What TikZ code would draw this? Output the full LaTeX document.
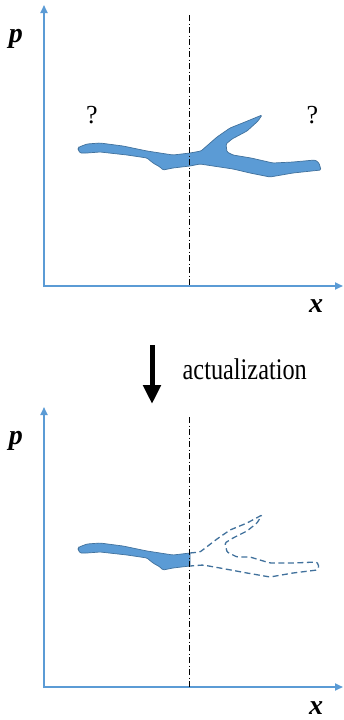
\documentclass[tikz,border=0pt]{standalone}
\usepackage{fontspec}
\setmainfont{Liberation Serif}
\usetikzlibrary{arrows.meta}
\definecolor{axisblue}{HTML}{5B9BD5}
\definecolor{blobfill}{HTML}{5B9BD5}
\definecolor{blobline}{HTML}{41719C}
\begin{document}
\begin{tikzpicture}[x=1pt,y=-1pt,
  axis/.style={draw=axisblue, line width=1.8pt, -{Triangle[length=8pt,width=7pt]}},
  dashdot/.style={line width=0.9pt, dash pattern=on 6pt off 2.5pt on 1pt off 2.5pt},
  blob/.style={fill=blobfill, draw=blobline, line width=0.7pt, rounded corners=1.2pt},
  ghost/.style={draw=blobline, line width=1.3pt, dash pattern=on 6pt off 3.5pt, rounded corners=1.2pt},
  lbl/.style={font=\fontsize{28}{32}\selectfont\bfseries\itshape, inner sep=0pt, anchor=base},
  qm/.style={font=\fontsize{26}{30}\selectfont, inner sep=0pt, anchor=base},
  txt/.style={font=\fontsize{30}{36}\selectfont, inner sep=0pt, anchor=base west}]
\useasboundingbox (0,0) rectangle (344,720);

% ---------- top panel ----------
\coordinate (o1y) at (44,287);
\coordinate (o1x) at (43.1,286);
\coordinate (ytip1) at (44,5);
\coordinate (xtip1) at (343,286);
\draw[axis] (o1y) -- (ytip1);
\draw[axis] (o1x) -- (xtip1);
\coordinate (dtop1) at (189,15);
\coordinate (dbot1) at (189,286);

\path[blob] (190,166) -- (173,168) -- (163,170) -- (160,167) -- (153,163) -- (147,158) -- (127,155) -- (100,152) -- (87,153) -- (80,153) -- (78,149) -- (79,147) -- (87,144) -- (100,143) -- (123,146) -- (147,151) -- (173,155) -- (190,153) -- (201,151) -- (217,137) -- (230,128) -- (245,122) -- (262,115) -- (258,121) -- (247,131) -- (232,139) -- (226,144) -- (227,152) -- (233,155) -- (251,158) -- (273,163) -- (293,162) -- (315,160) -- (319,163) -- (321,170) -- (293,173) -- (270,177) -- (250,173) -- (233,169) -- (213,166) -- (200,164) -- cycle;
\draw[dashdot] (dtop1) -- (dbot1);

\node[lbl] (p1) at (16,42) {p};
\node[lbl] (x1) at (316,312) {x};
\node[qm] (q1) at (92,123) {?};
\node[qm] (q2) at (312.5,123) {?};

% ---------- arrow ----------
\coordinate (atop) at (152,345);
\coordinate (abot) at (152,404);
\draw[line width=5pt, -{Triangle[length=19pt,width=17pt]}] (atop) -- (abot);
\node[txt] (act) at (182.5,379) {\scalebox{0.81}[1]{actualization}};

% ---------- bottom panel ----------
\coordinate (o2y) at (44,688);
\coordinate (o2x) at (43.1,687);
\coordinate (ytip2) at (44,407);
\coordinate (xtip2) at (343,687);
\draw[axis] (o2y) -- (ytip2);
\draw[axis] (o2x) -- (xtip2);
\coordinate (dtop2) at (189,417);
\coordinate (dbot2) at (189,687);

\begin{scope}[shift={(0,400)}]
\path[blob] (190,166) -- (173,168) -- (163,170) -- (160,167) -- (153,163) -- (147,158) -- (127,155) -- (100,152) -- (87,153) -- (80,153) -- (78,149) -- (79,147) -- (87,144) -- (100,143) -- (123,146) -- (147,151) -- (173,155) -- (190,153) -- cycle;
\draw[ghost] (190,153) -- (200,152) -- (217,139) -- (230,130) -- (247,123) -- (262,115) -- (257,123) -- (247,131) -- (233,138) -- (225,143) -- (227,152) -- (237,157) -- (250,157) -- (270,163) -- (293,163) -- (317,162) -- (319,167) -- (317,170) -- (293,173) -- (270,177) -- (247,173) -- (220,168) -- (203,165) -- (190,166);
\end{scope}
\draw[dashdot] (dtop2) -- (dbot2);

\node[lbl] (p2) at (16,444) {p};
\node[lbl] (x2) at (316,714) {x};
\end{tikzpicture}
\end{document}
